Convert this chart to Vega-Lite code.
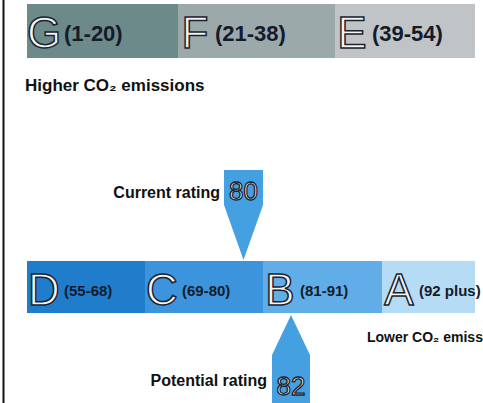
{
  "$schema": "https://vega.github.io/schema/vega-lite/v6.json",
  "width": 483,
  "height": 403,
  "padding": 0,
  "autosize": {"type": "none"},
  "background": "white",
  "config": {"view": {"stroke": null}},
  "datasets": {
    "border": [{"x": 3.5, "y": 0, "y2": 403}],
    "bands": [
      {"band": "G", "range": "(1-20)", "row": "top", "x0": 27, "x1": 178, "top": 4, "bottom": 58},
      {"band": "F", "range": "(21-38)", "row": "top", "x0": 178, "x1": 335, "top": 4, "bottom": 58},
      {"band": "E", "range": "(39-54)", "row": "top", "x0": 335, "x1": 475, "top": 4, "bottom": 58},
      {"band": "D", "range": "(55-68)", "row": "bottom", "x0": 27, "x1": 145, "top": 261, "bottom": 313},
      {"band": "C", "range": "(69-80)", "row": "bottom", "x0": 145, "x1": 263, "top": 261, "bottom": 313},
      {"band": "B", "range": "(81-91)", "row": "bottom", "x0": 263, "x1": 382, "top": 261, "bottom": 313},
      {"band": "A", "range": "(92 plus)", "row": "bottom", "x0": 382, "x1": 475, "top": 261, "bottom": 313}
    ],
    "pointers": [
      {"pointer": "Current", "x": 224, "yTop": 170, "yBottom": 205},
      {"pointer": "Current", "x": 243.5, "yTop": 170, "yBottom": 260},
      {"pointer": "Current", "x": 263, "yTop": 170, "yBottom": 205},
      {"pointer": "Potential", "x": 272, "yTop": 355, "yBottom": 403},
      {"pointer": "Potential", "x": 291, "yTop": 315, "yBottom": 403},
      {"pointer": "Potential", "x": 310, "yTop": 355, "yBottom": 403}
    ],
    "ratings": [
      {"pointer": "Current", "rating": "80", "x": 243.5, "y": 192},
      {"pointer": "Potential", "rating": "82", "x": 291, "y": 387}
    ],
    "labelsLeft": [
      {"text": "Higher CO₂ emissions", "x": 25, "y": 86}
    ],
    "labelsRight": [
      {"text": "Current rating", "x": 220, "y": 193},
      {"text": "Potential rating", "x": 267, "y": 381}
    ],
    "labelsSmall": [
      {"text": "Lower CO₂ emissions", "x": 367, "y": 338}
    ]
  },
  "layer": [
    {
      "data": {"name": "border"},
      "mark": {"type": "rule", "color": "#111111", "strokeWidth": 2},
      "encoding": {
        "x": {"field": "x", "type": "quantitative", "scale": {"domain": [0, 483], "nice": false, "zero": false}, "axis": null},
        "y": {"field": "y", "type": "quantitative", "scale": {"domain": [0, 403], "nice": false, "zero": false, "reverse": true}, "axis": null},
        "y2": {"field": "y2"}
      }
    },
    {
      "data": {"name": "bands"},
      "mark": {"type": "rect"},
      "encoding": {
        "x": {"field": "x0", "type": "quantitative", "scale": {"domain": [0, 483], "nice": false, "zero": false}, "axis": null},
        "x2": {"field": "x1"},
        "y": {"field": "top", "type": "quantitative", "scale": {"domain": [0, 403], "nice": false, "zero": false, "reverse": true}, "axis": null},
        "y2": {"field": "bottom"},
        "color": {"field": "band", "type": "nominal", "legend": null,
          "scale": {"domain": ["G", "F", "E", "D", "C", "B", "A"],
                    "range": ["#6c8a8a", "#9ca9aa", "#c0c4c6", "#1f7dcb", "#3c94dc", "#60ade7", "#b6dbf5"]}}
      }
    },
    {
      "data": {"name": "bands"},
      "mark": {"type": "text", "font": "Liberation Sans", "fontSize": 44,
               "fill": "#f5f7f7", "stroke": "#1c2430", "strokeWidth": 1.5, "align": "center", "baseline": "middle", "dx": 17, "dy": 31},
      "encoding": {
        "x": {"field": "x0", "type": "quantitative", "scale": {"domain": [0, 483], "nice": false, "zero": false}, "axis": null},
        "y": {"field": "top", "type": "quantitative", "scale": {"domain": [0, 403], "nice": false, "zero": false, "reverse": true}, "axis": null},
        "text": {"field": "band"}
      }
    },
    {
      "data": {"name": "bands"},
      "mark": {"type": "text", "font": "Liberation Sans", "fontWeight": "bold",
               "fill": "#141b2a", "align": "left", "baseline": "middle", "dx": 37, "dy": 30},
      "encoding": {
        "x": {"field": "x0", "type": "quantitative", "scale": {"domain": [0, 483], "nice": false, "zero": false}, "axis": null},
        "y": {"field": "top", "type": "quantitative", "scale": {"domain": [0, 403], "nice": false, "zero": false, "reverse": true}, "axis": null},
        "text": {"field": "range"},
        "size": {"field": "row", "type": "nominal", "legend": null, "scale": {"domain": ["top", "bottom"], "range": [22, 15]}}
      }
    },
    {
      "data": {"name": "pointers"},
      "mark": {"type": "area", "orient": "vertical", "color": "#45a0e2", "interpolate": "linear"},
      "encoding": {
        "x": {"field": "x", "type": "quantitative", "scale": {"domain": [0, 483], "nice": false, "zero": false}, "axis": null},
        "y": {"field": "yTop", "type": "quantitative", "scale": {"domain": [0, 403], "nice": false, "zero": false, "reverse": true}, "axis": null},
        "y2": {"field": "yBottom"},
        "detail": {"field": "pointer"}
      }
    },
    {
      "data": {"name": "ratings"},
      "mark": {"type": "text", "font": "Liberation Sans", "fontSize": 26,
               "fill": "#f5f8fa", "stroke": "#1c2430", "strokeWidth": 1.3, "align": "center", "baseline": "middle"},
      "encoding": {
        "x": {"field": "x", "type": "quantitative", "scale": {"domain": [0, 483], "nice": false, "zero": false}, "axis": null},
        "y": {"field": "y", "type": "quantitative", "scale": {"domain": [0, 403], "nice": false, "zero": false, "reverse": true}, "axis": null},
        "text": {"field": "rating"}
      }
    },
    {
      "data": {"name": "labelsLeft"},
      "mark": {"type": "text", "font": "Liberation Sans", "fontWeight": "bold", "fontSize": 17,
               "fill": "#111111", "align": "left", "baseline": "middle"},
      "encoding": {
        "x": {"field": "x", "type": "quantitative", "scale": {"domain": [0, 483], "nice": false, "zero": false}, "axis": null},
        "y": {"field": "y", "type": "quantitative", "scale": {"domain": [0, 403], "nice": false, "zero": false, "reverse": true}, "axis": null},
        "text": {"field": "text"}
      }
    },
    {
      "data": {"name": "labelsRight"},
      "mark": {"type": "text", "font": "Liberation Sans", "fontWeight": "bold", "fontSize": 16,
               "fill": "#111111", "align": "right", "baseline": "middle"},
      "encoding": {
        "x": {"field": "x", "type": "quantitative", "scale": {"domain": [0, 483], "nice": false, "zero": false}, "axis": null},
        "y": {"field": "y", "type": "quantitative", "scale": {"domain": [0, 403], "nice": false, "zero": false, "reverse": true}, "axis": null},
        "text": {"field": "text"}
      }
    },
    {
      "data": {"name": "labelsSmall"},
      "mark": {"type": "text", "font": "Liberation Sans", "fontWeight": "bold", "fontSize": 14,
               "fill": "#111111", "align": "left", "baseline": "middle", "clip": true},
      "encoding": {
        "x": {"field": "x", "type": "quantitative", "scale": {"domain": [0, 483], "nice": false, "zero": false}, "axis": null},
        "y": {"field": "y", "type": "quantitative", "scale": {"domain": [0, 403], "nice": false, "zero": false, "reverse": true}, "axis": null},
        "text": {"field": "text"}
      }
    }
  ]
}
